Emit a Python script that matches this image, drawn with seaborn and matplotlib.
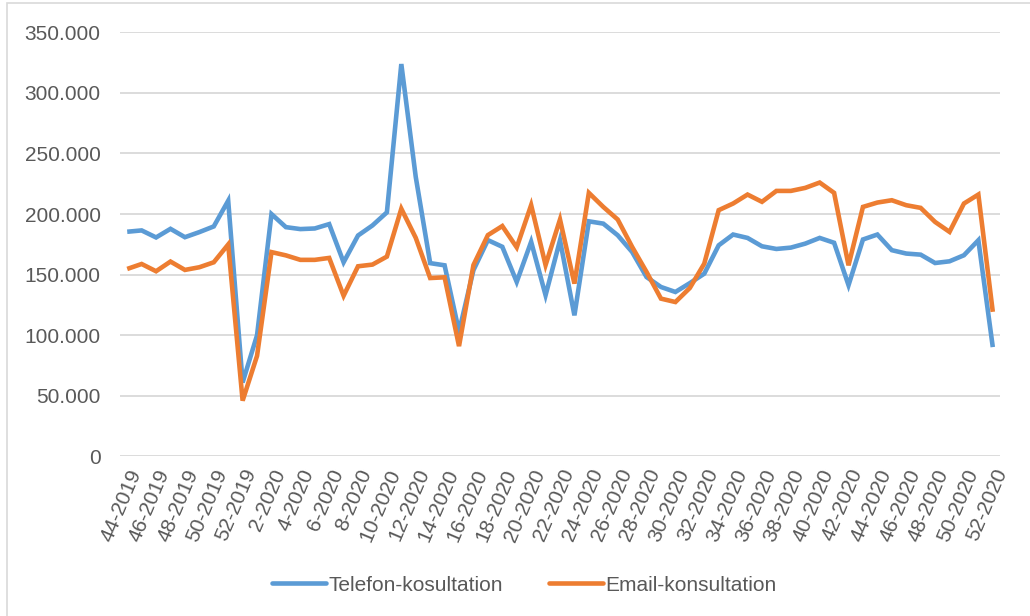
import matplotlib
matplotlib.use("Agg")
import matplotlib.pyplot as plt
import matplotlib.ticker as mticker
from matplotlib.patches import Rectangle
from matplotlib.lines import Line2D
import seaborn as sns
import numpy as np
import pandas as pd

# ---- data ----
weeks = [f"{w}-2019" for w in range(44, 53)] + [f"{w}-2020" for w in range(1, 53)]

telefon = [185400, 186500, 180700, 187800, 180900, 185100, 189800, 211000, 61000, 100000,
           200000, 189200, 187600, 188100, 191700, 160200, 182300, 190600, 201400, 323800,
           230700, 159500, 157700, 103000, 153700, 178500, 173000, 144000, 177100, 133000,
           178400, 116400, 194000, 192100, 182500, 168700, 148000, 139800, 135700, 143000,
           150800, 174200, 183100, 180300, 173400, 171200, 172300, 175600, 180300, 176300,
           141300, 179000, 183100, 170200, 167400, 166500, 159600, 161000, 166000, 178400,
           90200]

email = [154700, 158800, 152800, 160800, 153900, 156100, 160200, 174900, 46000, 83000,
         168600, 165900, 162200, 162200, 163800, 132600, 156900, 158300, 164900, 204400,
         180400, 147200, 147800, 91000, 157900, 182600, 190100, 172500, 207400, 157900,
         195500, 142600, 217500, 205900, 195500, 172900, 152200, 130200, 127400, 139000,
         159100, 203200, 208700, 216100, 210100, 219100, 219100, 221600, 226000, 217500,
         157700, 205900, 209500, 211400, 207300, 205100, 193500, 185300, 208700, 216100,
         119300]

series_names = ["Telefon-kosultation", "Email-konsultation"]
series_colors = ["#5B9BD5", "#ED7D31"]
y_ticks = [0, 50000, 100000, 150000, 200000, 250000, 300000, 350000]

# ---- figure ----
sns.set_theme(style="white")
plt.rcParams["font.family"] = ["Liberation Sans", "DejaVu Sans"]

fig = plt.figure(figsize=(10.30, 6.16), dpi=100)
ax = fig.add_axes([120 / 1030, 1 - 456.4 / 616, 880 / 1030, (456.4 - 32.3) / 616])

pos = np.arange(len(weeks))
df = pd.DataFrame({
    "pos": np.concatenate([pos, pos]),
    "value": telefon + email,
    "serie": [series_names[0]] * len(weeks) + [series_names[1]] * len(weeks),
})

sns.lineplot(data=df, x="pos", y="value", hue="serie", hue_order=series_names,
             palette=series_colors, linewidth=3.3, ax=ax, legend=False,
             sort=False)
for ln in ax.lines:
    ln.set_solid_joinstyle("miter")
    ln.set_solid_capstyle("butt")

ax.set_xlim(-0.5, len(weeks) - 0.5)
ax.set_ylim(0, 350000)
ax.set_yticks(y_ticks)
ax.yaxis.set_major_formatter(mticker.FuncFormatter(
    lambda v, p: "0" if v == 0 else f"{int(v):,}".replace(",", ".")))
ax.set_xticks(pos[::2])
ax.set_xticklabels(weeks[::2], rotation=67, ha="right", rotation_mode="anchor")
ax.tick_params(axis="both", length=0, labelsize=15, labelcolor="#595959")
ax.tick_params(axis="y", pad=14)
ax.tick_params(axis="x", pad=7)
ax.set_xlabel("")
ax.set_ylabel("")
ax.grid(axis="y", color="#D9D9D9", linewidth=1.3)
ax.grid(axis="x", visible=False)
ax.set_axisbelow(True)
for s in ax.spines.values():
    s.set_visible(False)

# legend
handles = [Line2D([0], [0], color=c, lw=3.3) for c in series_colors]
fig.legend(handles, series_names, loc="center", bbox_to_anchor=(0.509, 0.05),
           ncol=2, frameon=False, fontsize=15, handlelength=2.6,
           handletextpad=0.1, columnspacing=2.2, labelcolor="#595959")

# chart border
fig.patches.append(Rectangle((7 / 1030, -0.05), 1.1, 1.05 - 3 / 616, transform=fig.transFigure,
                             fill=False, edgecolor="#D9D9D9", linewidth=1.2))

fig.savefig("out.png", dpi=100)
